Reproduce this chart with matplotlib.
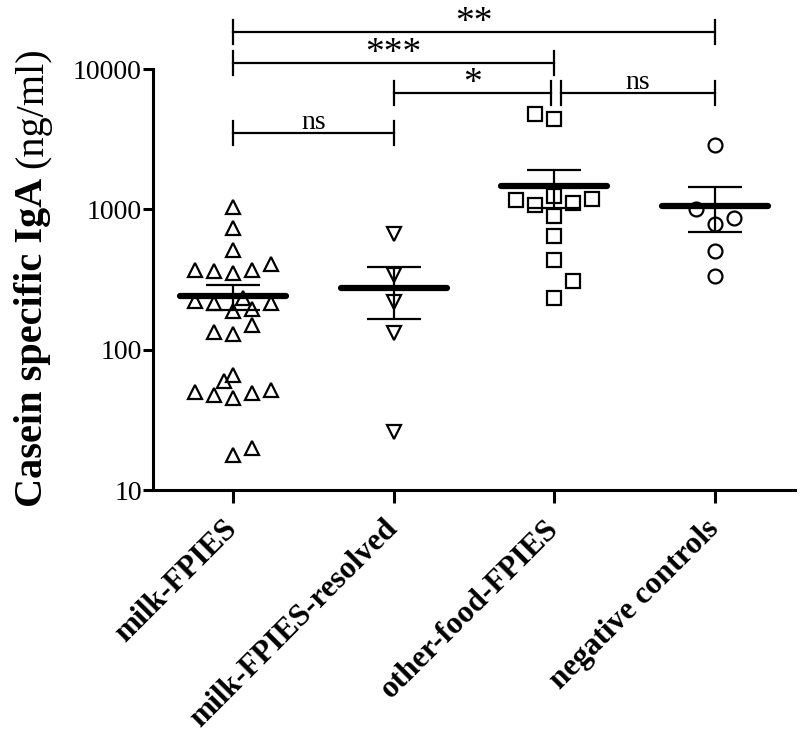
import matplotlib
matplotlib.use('Agg')
import matplotlib.pyplot as plt
import numpy as np
from matplotlib.ticker import NullLocator, FixedLocator, FixedFormatter

plt.rcParams['font.family'] = ['Liberation Serif', 'DejaVu Serif']

# ---------------- data ----------------
categories = ['milk-FPIES', 'milk-FPIES-resolved', 'other-food-FPIES', 'negative controls']

milk_fpies = [1040, 736, 513, 370, 364, 352, 370, 408, 222, 215, 233, 215, 188, 195,
              134, 129, 150, 66, 60, 50, 47.5, 45.3, 49, 51.6, 17.7, 19.9]
milk_fpies_resolved = [667, 340, 219, 131, 26]
other_food_fpies = [4780, 4400, 1166, 1074, 1245, 1109, 1186, 896, 646, 436, 308, 233]
negative_controls = [2873, 1005, 867, 786, 505, 335]

# horizontal scatter offsets (in marker-width steps)
milk_fpies_off = [0, 0, 0, -2, -1, 0, 1, 2, -2, -1, 0.5, 2, 0, 1,
                  -1, 0, 1, 0, -0.5, -2, -1, 0, 1, 2, 0, 1]
milk_fpies_resolved_off = [0, 0, 0, 0, 0]
other_food_fpies_off = [-1, 0, -2, -1, 0, 1, 2, 0, 0, 0, 1, 0]
negative_controls_off = [0, -1, 1, 0, 0, 0]

yticks = [10, 100, 1000, 10000]
ytick_labels = ['10', '100', '1000', '10000']

# significance comparisons
sig_left = [0, 0, 1, 2, 0]
sig_right = [3, 2, 2, 3, 1]
sig_level = [18360, 11040, 6750, 6750, 3500]
sig_label = ['**', '***', '*', 'ns', 'ns']

# ---------------- figure ----------------
W, H = 800, 745
fig = plt.figure(figsize=(W / 100, H / 100), dpi=100)
ax = fig.add_axes([153 / W, 1 - 490 / H, 642 / W, (490 - 69) / H])

step = 0.118
series = [milk_fpies, milk_fpies_resolved, other_food_fpies, negative_controls]
offsets = [milk_fpies_off, milk_fpies_resolved_off, other_food_fpies_off, negative_controls_off]
markers = ['^', 'v', 's', 'o']
msizes = [10, 10, 9.4, 10]

for i, (vals, offs, mk, ms) in enumerate(zip(series, offsets, markers, msizes)):
    vals = np.asarray(vals, float)
    x = i + np.asarray(offs) * step
    ax.plot(x, vals, linestyle='none', marker=mk, ms=ms, mfc='none', mec='black',
            mew=1.6, zorder=3, clip_on=False)
    m = vals.mean()
    sem = vals.std(ddof=1) / np.sqrt(len(vals))
    ax.plot([i - 0.33, i + 0.33], [m, m], color='black', lw=4.5,
            solid_capstyle='round', zorder=4)
    ax.errorbar([i], [m], yerr=[[sem], [sem]], fmt='none', ecolor='black',
                elinewidth=1.6, capsize=19.5, capthick=1.6, zorder=4)

ax.set_yscale('log')
ax.set_ylim(10, 10000)
ax.set_xlim(-0.5, 3.5)
ax.yaxis.set_major_locator(FixedLocator(yticks))
ax.yaxis.set_major_formatter(FixedFormatter(ytick_labels))
ax.yaxis.set_minor_locator(NullLocator())
ax.set_xticks(range(len(categories)))
ax.set_xticklabels(categories, rotation=45, ha='right', va='center',
                   rotation_mode='anchor', fontsize=22.5, fontweight='bold')
for lab in ax.get_yticklabels():
    lab.set_fontsize(20)

for s in ['top', 'right']:
    ax.spines[s].set_visible(False)
for s in ['left', 'bottom']:
    ax.spines[s].set_linewidth(2.2)
ax.tick_params(axis='y', length=7, width=2.2, pad=1)
ax.tick_params(axis='x', length=9, width=2.2, pad=16)

# significance brackets
f = 10 ** (12 / 140.33)
for l, r, lev, lab in zip(sig_left, sig_right, sig_level, sig_label):
    lo = l + (0.04 if (l == 2) else 0)
    ro = r - (0.02 if (r == 2 and l == 1) else 0)
    ax.plot([lo, ro], [lev, lev], color='black', lw=1.6, clip_on=False)
    ax.plot([lo, lo], [lev / f, lev * f], color='black', lw=1.6, clip_on=False)
    ax.plot([ro, ro], [lev / f, lev * f], color='black', lw=1.6, clip_on=False)
    fs = 27 if '*' in lab else 20
    dy = 0 if '*' in lab else 3
    ax.annotate(lab, xy=((lo + ro) / 2, lev), xytext=(0, dy), textcoords='offset points',
                ha='center', va='baseline', fontsize=fs, annotation_clip=False)

# y label: bold part + regular part
t1 = fig.text(42 / W, 1 - 507 / H, 'Casein specific IgA', rotation=90, rotation_mode='anchor',
              ha='left', va='baseline', fontsize=29, fontweight='bold')
fig.canvas.draw()
bb = t1.get_window_extent(fig.canvas.get_renderer())
gap = 0.25 * 29 * 100 / 72
fig.text(42 / W, (bb.y1 + gap) / H, '(ng/ml)', rotation=90, rotation_mode='anchor',
         ha='left', va='baseline', fontsize=29)

fig.savefig('out.png', dpi=100)
